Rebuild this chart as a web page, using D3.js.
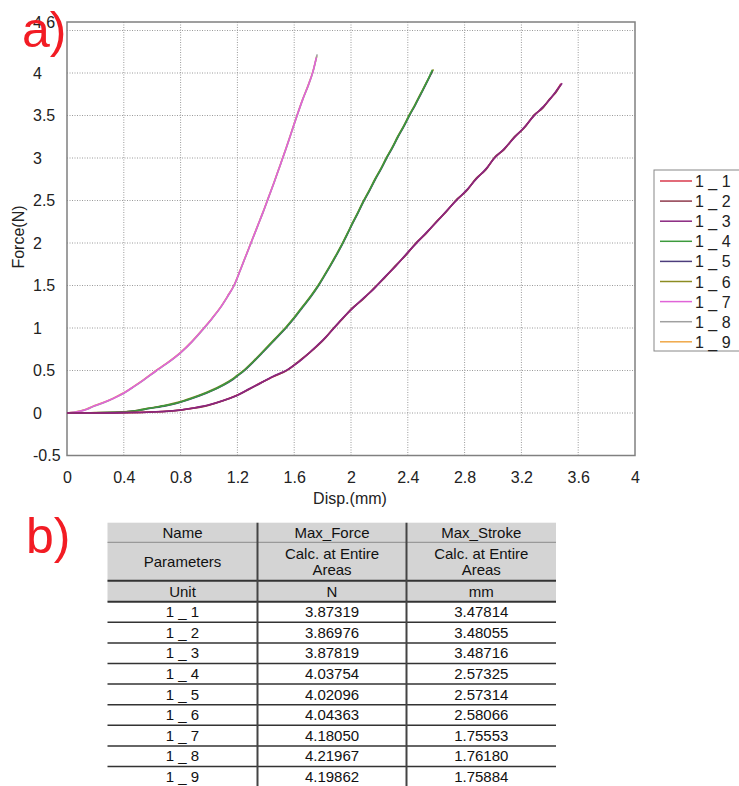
<!DOCTYPE html>
<html>
<head>
<meta charset="utf-8">
<script src="https://cdn.jsdelivr.net/npm/d3@7"></script>
<style>
  html, body { margin: 0; padding: 0; background: #fff; }
  svg { display: block; font-family: Arial, "Liberation Sans", sans-serif; }
</style>
</head>
<body>
<svg id="fig" width="739" height="786"></svg>
<script>
// ---- Test names and summary results ----
const names = ["1 _ 1", "1 _ 2", "1 _ 3", "1 _ 4", "1 _ 5", "1 _ 6", "1 _ 7", "1 _ 8", "1 _ 9"];
const maxForce  = [3.87319, 3.86976, 3.87819, 4.03754, 4.02096, 4.04363, 4.18050, 4.21967, 4.19862];
const maxStroke = [3.47814, 3.48055, 3.48716, 2.57325, 2.57314, 2.58066, 1.75553, 1.76180, 1.75884];
const seriesColors = ["#d83a4c", "#8e3a4c", "#8a2680", "#3c9a3c", "#4c3c7c", "#8c8c22", "#e064d8", "#a0a0a0", "#f0a848"];
// paint order: heavier colours of each group end up on top
const drawOrder = [8, 7, 6, 5, 4, 3, 0, 1, 2];

// ---- Axis ticks ----
const xTicks = [0, 0.4, 0.8, 1.2, 1.6, 2, 2.4, 2.8, 3.2, 3.6, 4];
const yTickLabels = [-0.5, 0, 0.5, 1, 1.5, 2, 2.5, 3, 3.5, 4, 4.6];
const yGridValues = [0, 0.5, 1, 1.5, 2, 2.5, 3, 3.5, 4, 4.5];

// ---- Force–displacement records [disp (mm), force (N)]; each run ends at its max stroke / max force ----
const s1_1 = [[0,0],[0.2,0.001],[0.4,0.004],[0.6,0.013],[0.8,0.036],[0.9,0.06],[1.0,0.095],[1.1,0.146],[1.2,0.212],[1.28,0.28],[1.36,0.352],[1.45,0.425],[1.55,0.505],[1.64,0.615],[1.74,0.758],[1.81,0.87],[1.88,1.0],[1.94,1.11],[2.0,1.215],[2.08,1.335],[2.16,1.462],[2.24,1.6],[2.31,1.722],[2.39,1.868],[2.46,2.0],[2.53,2.118],[2.6,2.245],[2.67,2.37],[2.74,2.5],[2.81,2.612],[2.88,2.752],[2.95,2.868],[3.01,3.0],[3.08,3.108],[3.15,3.242],[3.22,3.358],[3.29,3.502],[3.35,3.592],[3.40,3.69],[3.44,3.772]];
const s1_2 = [[0,0],[0.2,0.001],[0.4,0.003],[0.6,0.011],[0.8,0.034],[0.9,0.058],[1.0,0.092],[1.1,0.143],[1.2,0.208],[1.28,0.276],[1.36,0.348],[1.45,0.428],[1.55,0.501],[1.64,0.62],[1.74,0.754],[1.81,0.865],[1.88,1.004],[1.94,1.105],[2.0,1.222],[2.08,1.33],[2.16,1.466],[2.24,1.596],[2.31,1.728],[2.39,1.862],[2.46,2.006],[2.53,2.112],[2.6,2.25],[2.67,2.364],[2.74,2.506],[2.81,2.606],[2.88,2.758],[2.95,2.862],[3.01,3.006],[3.08,3.102],[3.15,3.248],[3.22,3.352],[3.29,3.508],[3.35,3.586],[3.40,3.696],[3.44,3.766]];
const s1_3 = [[0,0],[0.2,0.0],[0.4,0.004],[0.6,0.012],[0.8,0.035],[0.9,0.062],[1.0,0.097],[1.1,0.148],[1.2,0.21],[1.28,0.282],[1.36,0.35],[1.45,0.43],[1.55,0.508],[1.64,0.61],[1.74,0.761],[1.81,0.872],[1.88,0.998],[1.94,1.114],[2.0,1.212],[2.08,1.34],[2.16,1.458],[2.24,1.604],[2.31,1.718],[2.39,1.872],[2.46,1.996],[2.53,2.122],[2.6,2.242],[2.67,2.374],[2.74,2.496],[2.81,2.616],[2.88,2.748],[2.95,2.872],[3.01,2.996],[3.08,3.112],[3.15,3.238],[3.22,3.362],[3.29,3.498],[3.35,3.598],[3.40,3.688],[3.44,3.778]];

const s1_4 = [[0,0],[0.1,0.001],[0.2,0.003],[0.3,0.006],[0.4,0.012],[0.5,0.03],[0.58,0.055],[0.7,0.09],[0.8,0.13],[0.9,0.185],[1.0,0.25],[1.1,0.33],[1.16,0.39],[1.2,0.44],[1.24,0.49],[1.31,0.6],[1.38,0.72],[1.46,0.86],[1.55,1.02],[1.61,1.14],[1.66,1.25],[1.72,1.38],[1.77,1.5],[1.81,1.61],[1.856,1.74],[1.9,1.87],[1.939,1.99],[1.975,2.11],[2.01,2.23],[2.05,2.36],[2.085,2.48],[2.13,2.62],[2.17,2.75],[2.21,2.87],[2.25,3.0],[2.29,3.12],[2.33,3.25],[2.37,3.37],[2.41,3.5],[2.45,3.62],[2.49,3.75],[2.53,3.88]];
const s1_5 = [[0,0],[0.1,0.0],[0.2,0.002],[0.3,0.005],[0.4,0.011],[0.5,0.028],[0.58,0.052],[0.7,0.087],[0.8,0.127],[0.9,0.182],[1.0,0.246],[1.1,0.326],[1.16,0.385],[1.2,0.436],[1.24,0.486],[1.31,0.596],[1.38,0.715],[1.46,0.855],[1.55,1.015],[1.61,1.135],[1.66,1.244],[1.72,1.374],[1.77,1.494],[1.81,1.604],[1.856,1.734],[1.9,1.864],[1.939,1.984],[1.975,2.104],[2.01,2.224],[2.05,2.354],[2.085,2.474],[2.13,2.614],[2.17,2.744],[2.21,2.864],[2.25,2.994],[2.29,3.114],[2.33,3.244],[2.37,3.364],[2.41,3.494],[2.45,3.614],[2.49,3.744],[2.53,3.874]];
const s1_6 = [[0,0],[0.1,0.002],[0.2,0.004],[0.3,0.008],[0.4,0.014],[0.5,0.033],[0.58,0.058],[0.7,0.094],[0.8,0.134],[0.9,0.19],[1.0,0.255],[1.1,0.336],[1.16,0.395],[1.2,0.445],[1.24,0.495],[1.31,0.606],[1.38,0.726],[1.46,0.866],[1.55,1.026],[1.61,1.146],[1.66,1.256],[1.72,1.386],[1.77,1.506],[1.81,1.616],[1.856,1.746],[1.9,1.876],[1.939,1.996],[1.975,2.116],[2.01,2.236],[2.05,2.366],[2.085,2.486],[2.13,2.626],[2.17,2.756],[2.21,2.876],[2.25,3.006],[2.29,3.126],[2.33,3.256],[2.37,3.376],[2.41,3.506],[2.45,3.626],[2.49,3.756],[2.53,3.886]];

const s1_7 = [[0,0],[0.05,0.008],[0.09,0.02],[0.14,0.045],[0.18,0.075],[0.24,0.112],[0.3,0.152],[0.35,0.192],[0.4,0.236],[0.47,0.31],[0.54,0.39],[0.63,0.5],[0.7,0.58],[0.8,0.71],[0.88,0.84],[0.96,0.99],[1.02,1.11],[1.08,1.24],[1.13,1.37],[1.176,1.5],[1.22,1.68],[1.26,1.85],[1.3,2.02],[1.34,2.19],[1.38,2.36],[1.42,2.54],[1.46,2.72],[1.5,2.91],[1.54,3.1],[1.58,3.3],[1.62,3.5],[1.66,3.69],[1.7,3.86],[1.731,4.01]];
const s1_8 = [[0,0],[0.05,0.007],[0.09,0.019],[0.14,0.043],[0.18,0.073],[0.24,0.11],[0.3,0.15],[0.35,0.19],[0.4,0.233],[0.47,0.307],[0.54,0.387],[0.63,0.497],[0.7,0.577],[0.8,0.707],[0.88,0.837],[0.96,0.987],[1.02,1.107],[1.08,1.237],[1.13,1.367],[1.176,1.497],[1.22,1.677],[1.26,1.847],[1.3,2.017],[1.34,2.187],[1.38,2.357],[1.42,2.537],[1.46,2.717],[1.5,2.907],[1.54,3.097],[1.58,3.297],[1.62,3.497],[1.66,3.687],[1.7,3.857],[1.731,4.007]];
const s1_9 = [[0,0],[0.05,0.009],[0.09,0.022],[0.14,0.047],[0.18,0.077],[0.24,0.114],[0.3,0.154],[0.35,0.194],[0.4,0.238],[0.47,0.313],[0.54,0.393],[0.63,0.503],[0.7,0.583],[0.8,0.713],[0.88,0.843],[0.96,0.993],[1.02,1.113],[1.08,1.243],[1.13,1.373],[1.176,1.503],[1.22,1.683],[1.26,1.853],[1.3,2.023],[1.34,2.193],[1.38,2.363],[1.42,2.543],[1.46,2.723],[1.5,2.913],[1.54,3.103],[1.58,3.303],[1.62,3.503],[1.66,3.693],[1.7,3.863],[1.731,4.013]];

const records = [s1_1, s1_2, s1_3, s1_4, s1_5, s1_6, s1_7, s1_8, s1_9];

// ---- Layout ----
const svg = d3.select("#fig");
const plot = { left: 67, right: 635, top: 22, bottom: 455.5 };
const x = d3.scaleLinear().domain([0, 4]).range([plot.left, plot.right]);
const y = d3.scaleLinear().domain([-0.5, 4.6]).range([plot.bottom, plot.top]);

svg.append("rect").attr("width", 739).attr("height", 786).attr("fill", "#fff");

// grid
const grid = svg.append("g").attr("stroke", "#9a9a9a").attr("stroke-width", 1).attr("stroke-dasharray", "1,1.5");
grid.selectAll("line.v").data(xTicks.filter(d => d > 0 && d < 4)).join("line")
  .attr("x1", d => x(d)).attr("x2", d => x(d)).attr("y1", plot.top).attr("y2", plot.bottom);
grid.selectAll("line.h").data(yGridValues).join("line")
  .attr("y1", d => y(d)).attr("y2", d => y(d)).attr("x1", plot.left).attr("x2", plot.right);

// frame
svg.append("rect").attr("x", plot.left).attr("y", plot.top)
  .attr("width", plot.right - plot.left).attr("height", plot.bottom - plot.top)
  .attr("fill", "none").attr("stroke", "#808080").attr("stroke-width", 1.5);

// axes
const xAxis = svg.append("g").attr("transform", `translate(0,${plot.bottom})`)
  .call(d3.axisBottom(x).tickValues(xTicks).tickFormat(d => String(d)).tickSize(0).tickPadding(16));
const yAxis = svg.append("g").attr("transform", `translate(${plot.left},0)`)
  .call(d3.axisLeft(y).tickValues(yTickLabels).tickFormat(d => String(d)).tickSize(0).tickPadding(8));
[xAxis, yAxis].forEach(g => {
  g.select(".domain").remove();
  g.selectAll("text").attr("font-size", 16).attr("fill", "#222")
    .attr("font-family", "Arial, 'Liberation Sans', sans-serif");
});
yAxis.selectAll("text").attr("text-anchor", "start").attr("x", 33 - plot.left);

svg.append("text").attr("x", 350).attr("y", 504).attr("text-anchor", "middle")
  .attr("font-size", 16).attr("fill", "#222").text("Disp.(mm)");
svg.append("text").attr("transform", "translate(24,237) rotate(-90)").attr("text-anchor", "middle")
  .attr("font-size", 16).attr("fill", "#222").text("Force(N)");

// curves
const line = d3.line().x(d => x(d[0])).y(d => y(d[1])).curve(d3.curveMonotoneX);
const runs = records.map((pts, i) => ({ i, pts: pts.concat([[maxStroke[i], maxForce[i]]]) }));
svg.append("g").attr("fill", "none").attr("stroke-width", 1.6).attr("stroke-linejoin", "round")
  .selectAll("path").data(drawOrder.map(k => runs[k])).join("path")
  .attr("stroke", d => seriesColors[d.i]).attr("d", d => line(d.pts));

// legend
const lg = svg.append("g");
lg.append("rect").attr("x", 654).attr("y", 170).attr("width", 100).attr("height", 181)
  .attr("fill", "#fff").attr("stroke", "#888").attr("stroke-width", 1);
const items = lg.selectAll("g.item").data(names).join("g")
  .attr("transform", (d, i) => `translate(0,${181 + i * 20.1})`);
items.append("line").attr("x1", 660).attr("x2", 692).attr("y1", 0).attr("y2", 0)
  .attr("stroke", (d, i) => seriesColors[i]).attr("stroke-width", 1.5);
items.append("text").attr("x", 695).attr("y", 6).attr("font-size", 16).attr("fill", "#222").text(d => d);

// panel letters
svg.append("text").attr("x", 22).attr("y", 47).attr("font-size", 50).attr("fill", "#f21c24").text("a)");
svg.append("text").attr("x", 26).attr("y", 553).attr("font-size", 50).attr("fill", "#f21c24").text("b)");

// ---- Results table ----
const fmt = d3.format(".5f");
const tbl = svg.append("g").attr("font-size", 15).attr("fill", "#111");
const colX = [107.5, 257.5, 406.5, 556];
const colMid = [0, 1, 2].map(c => (colX[c] + colX[c + 1]) / 2);
const headTop = 522.7, nameBot = 542.3, paramBot = 580.7, unitBot = 601.7, rowH = 20.6;

tbl.append("rect").attr("x", colX[0]).attr("y", headTop).attr("width", colX[3] - colX[0])
  .attr("height", unitBot - headTop).attr("fill", "#d4d4d4");

const headRows = [
  { y: (headTop + nameBot) / 2, cells: [["Name"], ["Max_Force"], ["Max_Stroke"]] },
  { y: (nameBot + paramBot) / 2, cells: [["Parameters"], ["Calc. at Entire", "Areas"], ["Calc. at Entire", "Areas"]] },
  { y: (paramBot + unitBot) / 2, cells: [["Unit"], ["N"], ["mm"]] }
];
headRows.forEach(r => {
  r.cells.forEach((lines, c) => {
    lines.forEach((t, k) => {
      const cy = r.y + (k - (lines.length - 1) / 2) * 16.5;
      tbl.append("text").attr("x", colMid[c]).attr("y", cy + 5.3).attr("text-anchor", "middle").text(t);
    });
  });
});

const rows = tbl.selectAll("g.row").data(names).join("g")
  .attr("transform", (d, i) => `translate(0,${unitBot + i * rowH})`);
rows.append("text").attr("x", colMid[0]).attr("y", rowH / 2 + 5.3).attr("text-anchor", "middle").text(d => d);
rows.append("text").attr("x", colMid[1]).attr("y", rowH / 2 + 5.3).attr("text-anchor", "middle").text((d, i) => fmt(maxForce[i]));
rows.append("text").attr("x", colMid[2]).attr("y", rowH / 2 + 5.3).attr("text-anchor", "middle").text((d, i) => fmt(maxStroke[i]));

// rules
tbl.append("line").attr("x1", colX[0]).attr("x2", colX[3]).attr("y1", nameBot).attr("y2", nameBot)
  .attr("stroke", "#8a8a8a").attr("stroke-width", 1);
[paramBot, unitBot].forEach(v => tbl.append("line").attr("x1", colX[0]).attr("x2", colX[3])
  .attr("y1", v).attr("y2", v).attr("stroke", "#333").attr("stroke-width", 2));
tbl.selectAll("line.rowrule").data(names).join("line")
  .attr("x1", colX[0]).attr("x2", colX[3])
  .attr("y1", (d, i) => unitBot + (i + 1) * rowH).attr("y2", (d, i) => unitBot + (i + 1) * rowH)
  .attr("stroke", "#333").attr("stroke-width", 1.5);
[colX[1], colX[2]].forEach(v => tbl.append("line").attr("x1", v).attr("x2", v)
  .attr("y1", headTop).attr("y2", 786).attr("stroke", "#444").attr("stroke-width", 2));
</script>
</body>
</html>
